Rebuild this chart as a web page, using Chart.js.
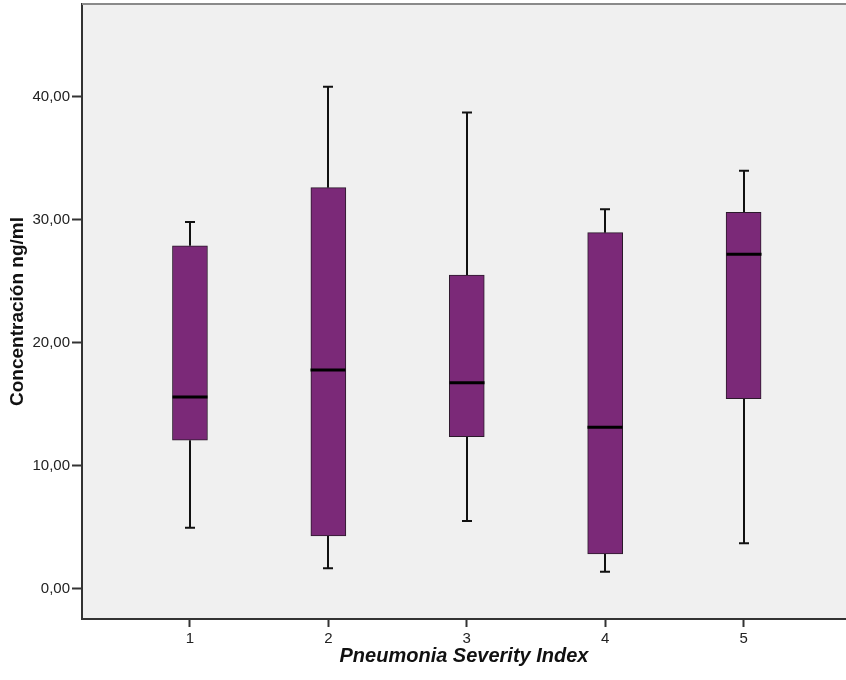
<!DOCTYPE html>
<html>
<head>
<meta charset="utf-8">
<script src="https://cdn.jsdelivr.net/npm/chart.js@4.4.1/dist/chart.umd.min.js"></script>
<style>
html,body{margin:0;padding:0;background:#fff;}
canvas{display:block;}
</style>
</head>
<body>
<canvas id="c" width="846" height="680"></canvas>
<script>
const categories = [1, 2, 3, 4, 5];
const whiskerMin = [4.98, 1.68, 5.53, 1.41, 3.71];
const q1 = [12.09, 4.31, 12.38, 2.85, 15.47];
const median = [15.60, 17.80, 16.77, 13.15, 27.21];
const q3 = [27.90, 32.63, 25.53, 28.97, 30.62];
const whiskerMax = [29.84, 40.84, 38.73, 30.87, 34.01];
const yTicks = [0, 10, 20, 30, 40];

const FONT = "'Liberation Sans', Arial, sans-serif";
const BOX_W = 35;

const boxPlugin = {
  id: 'boxExtras',
  beforeDraw(chart) {
    const {ctx, chartArea: a} = chart;
    ctx.save();
    ctx.fillStyle = '#F0F0F0';
    ctx.fillRect(a.left, a.top, a.right - a.left, a.bottom - a.top);
    ctx.restore();
  },
  beforeDatasetsDraw(chart) {
    const {ctx} = chart;
    const xs = chart.scales.x, ys = chart.scales.y;
    ctx.save();
    ctx.strokeStyle = '#111';
    ctx.lineWidth = 2;
    categories.forEach((c, i) => {
      const x = Math.round(xs.getPixelForValue(c));
      const yMax = ys.getPixelForValue(whiskerMax[i]);
      const yQ3 = ys.getPixelForValue(q3[i]);
      const yQ1 = ys.getPixelForValue(q1[i]);
      const yMin = ys.getPixelForValue(whiskerMin[i]);
      ctx.beginPath();
      ctx.moveTo(x, yMax); ctx.lineTo(x, yQ3);
      ctx.moveTo(x, yQ1); ctx.lineTo(x, yMin);
      ctx.moveTo(x - 5, yMax); ctx.lineTo(x + 5, yMax);
      ctx.moveTo(x - 5, yMin); ctx.lineTo(x + 5, yMin);
      ctx.stroke();
    });
    ctx.restore();
  },
  afterDatasetsDraw(chart) {
    const {ctx, chartArea: a} = chart;
    const xs = chart.scales.x, ys = chart.scales.y;
    ctx.save();
    ctx.strokeStyle = '#000';
    ctx.lineWidth = 3;
    categories.forEach((c, i) => {
      const x = Math.round(xs.getPixelForValue(c));
      const y = ys.getPixelForValue(median[i]);
      ctx.beginPath();
      ctx.moveTo(x - BOX_W / 2, y); ctx.lineTo(x + BOX_W / 2, y);
      ctx.stroke();
    });
    ctx.strokeStyle = '#8a8a8a';
    ctx.lineWidth = 2;
    ctx.beginPath();
    ctx.moveTo(a.left, a.top); ctx.lineTo(a.right, a.top);
    ctx.stroke();
    ctx.restore();
  }
};

new Chart(document.getElementById('c'), {
  type: 'bar',
  data: {
    datasets: [{
      data: categories.map((c, i) => ({x: c, y: [q1[i], q3[i]]})),
      backgroundColor: '#7B2978',
      borderColor: '#2b1a2b',
      borderWidth: 1,
      borderSkipped: false,
      barThickness: BOX_W
    }]
  },
  options: {
    responsive: false,
    animation: false,
    layout: {padding: {top: 4, right: 0, left: 0, bottom: 0}},
    plugins: {legend: {display: false}, tooltip: {enabled: false}},
    scales: {
      x: {
        type: 'linear',
        offset: false,
        min: 0.22,
        max: 5.74,
        afterBuildTicks(s) { s.ticks = categories.map(v => ({value: v})); },
        afterFit(s) { s.height = 61; s.paddingLeft = 0; s.paddingRight = 0; },
        grid: {display: true, offset: false, drawOnChartArea: false, tickLength: 8, tickColor: '#333', tickWidth: 2},
        border: {display: true, color: '#333', width: 2},
        ticks: {font: {family: FONT, size: 15}, color: '#222', padding: 3, maxRotation: 0,
          callback: v => String(v)},
        title: {display: true, text: 'Pneumonia Severity Index', color: '#111',
          font: {family: FONT, size: 20, weight: 'bold', style: 'italic'}, padding: {top: 0, bottom: 12}}
      },
      y: {
        type: 'linear',
        min: -2.44,
        max: 47.56,
        afterBuildTicks(s) { s.ticks = yTicks.map(v => ({value: v})); },
        afterFit(s) { s.width = 82; s.paddingTop = 0; s.paddingBottom = 0; },
        grid: {display: true, drawOnChartArea: false, tickLength: 10, tickColor: '#333', tickWidth: 2},
        border: {display: true, color: '#333', width: 2},
        ticks: {font: {family: FONT, size: 15}, color: '#222', padding: 2,
          callback: v => v.toFixed(2).replace('.', ',')},
        title: {display: true, text: 'Concentración ng/ml', color: '#111',
          font: {family: FONT, size: 19, weight: 'bold'}, padding: {top: 6, bottom: 0}}
      }
    }
  },
  plugins: [boxPlugin]
});
</script>
</body>
</html>
